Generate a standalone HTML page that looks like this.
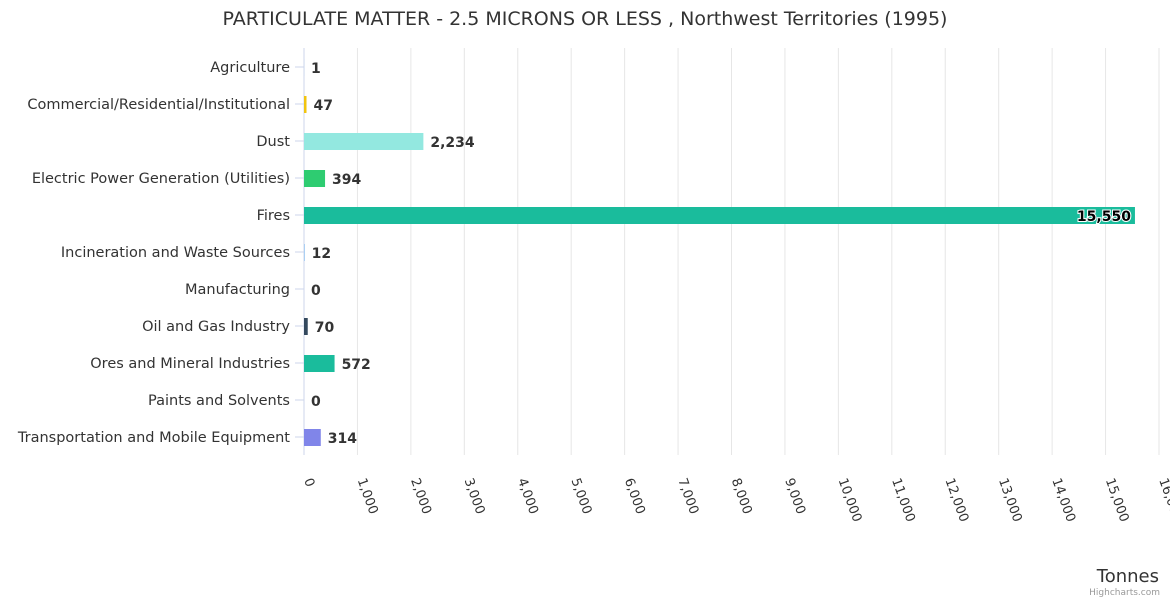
<!DOCTYPE html>
<html><head><meta charset="utf-8"><style>
body{margin:0;background:#fff;font-family:"Liberation Sans","DejaVu Sans",sans-serif}
svg text{font-family:"DejaVu Sans","Liberation Sans",sans-serif}
</style></head><body>
<svg id="c" width="1170" height="600">
<text x="585" y="25" text-anchor="middle" font-size="19" fill="#333">PARTICULATE MATTER - 2.5 MICRONS OR LESS , Northwest Territories (1995)</text>
<g id="grid"></g><g id="bars"></g><g id="labels"></g>
<text x="1159" y="582" text-anchor="end" font-size="18" fill="#333">Tonnes</text>
<text x="1160" y="595" text-anchor="end" font-size="9" fill="#999">Highcharts.com</text>
</svg>
<script>
const categories=["Agriculture","Commercial/Residential/Institutional","Dust","Electric Power Generation (Utilities)","Fires","Incineration and Waste Sources","Manufacturing","Oil and Gas Industry","Ores and Mineral Industries","Paints and Solvents","Transportation and Mobile Equipment"];
const values=[1,47,2234,394,15550,12,0,70,572,0,314];
const colors=["#7cb5ec","#f1c40f","#93e8e0","#2ecc71","#1abc9c","#7cb5ec","#7cb5ec","#34495e","#1abc9c","#7cb5ec","#8085e9"];
const ticks=[0,1000,2000,3000,4000,5000,6000,7000,8000,9000,10000,11000,12000,13000,14000,15000,16000];
const NS="http://www.w3.org/2000/svg";
const x0=304,x1=1159,max=16000,plotTop=48,step=37;
const xs=v=>x0+v/max*(x1-x0);
const yc=i=>plotTop+step*i+19;
const fmt=v=>v.toLocaleString("en-US");
function mk(t,a,p){const e=document.createElementNS(NS,t);for(const k in a)e.setAttribute(k,a[k]);p.appendChild(e);return e;}
const g=document.getElementById("grid"),b=document.getElementById("bars"),l=document.getElementById("labels");
ticks.forEach(t=>{
 const ln=mk("line",{x1:xs(t),x2:xs(t),y1:plotTop,y2:455,stroke:"#e6e6e6"},g);
 
 
 const x=xs(t),y=480;
 const tx=mk("text",{x:x,y:y,"font-size":"13",fill:"#333",transform:`rotate(70 ${x} ${y})`},g);
 tx.textContent=fmt(t);
 
 
});
const ax=mk("line",{x1:x0,x2:x0,y1:plotTop,y2:455,stroke:"#ccd6eb"},g);


categories.forEach((c,i)=>{
 const y=yc(i);
 const tk=mk("line",{x1:295,x2:304,y1:y,y2:y,stroke:"#ccd6eb"},g);
 
 
 const t=mk("text",{x:290,y:y+5,"text-anchor":"end","font-size":"14.5",fill:"#333"},l);
 t.textContent=c;
 
 
 const w=xs(values[i])-x0;
 const r=mk("rect",{x:x0,y:y-8,width:Math.max(w,0),height:17,fill:colors[i]},b);
 
 
 const inside=w>700;
 const v=mk("text",{x:inside?xs(values[i])-4:xs(values[i])+7,y:y+6,"text-anchor":inside?"end":"start","font-size":"14","font-weight":"bold",fill:inside?"#000":"#333",stroke:inside?"#fff":"none","stroke-width":inside?"2":"0","paint-order":"stroke"},l);
 v.textContent=fmt(values[i]);
 
 
});
</script>
</body></html>
